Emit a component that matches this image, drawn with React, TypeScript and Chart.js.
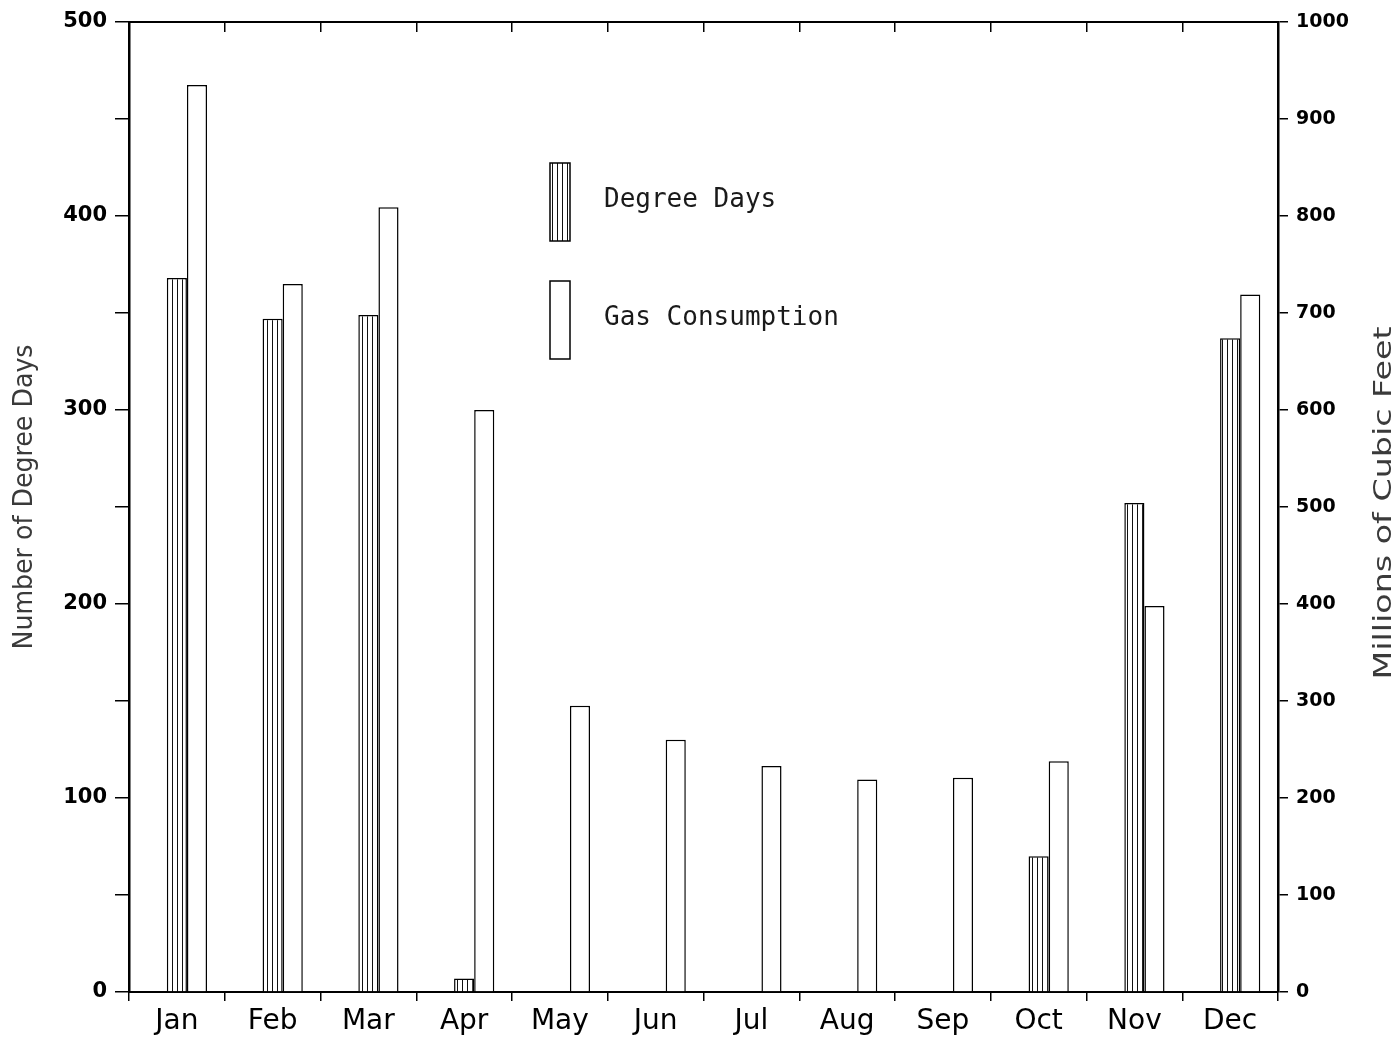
import React, { useEffect, useRef } from 'react';
import { Chart, registerables } from 'chart.js';

Chart.register(...registerables);

const months = ['Jan', 'Feb', 'Mar', 'Apr', 'May', 'Jun', 'Jul', 'Aug', 'Sep', 'Oct', 'Nov', 'Dec'];
const degreeDays = [368, 347, 349, 7, 0, 0, 0, 0, 0, 70, 252, 337];
const gasConsumption = [935, 730, 809, 600, 295, 260, 233, 219, 221, 238, 398, 719];
const seriesLabels = ['Degree Days', 'Gas Consumption'];
const leftTickValues = [0, 50, 100, 150, 200, 250, 300, 350, 400, 450, 500];
const leftTickLabels = ['0', '', '100', '', '200', '', '300', '', '400', '', '500'];
const rightTickValues = [0, 100, 200, 300, 400, 500, 600, 700, 800, 900, 1000];
const rightTickLabels = ['0', '100', '200', '300', '400', '500', '600', '700', '800', '900', '1000'];
const leftTitle = 'Number of Degree Days';
const rightTitle = 'Millions of Cubic Feet';

function makeHatch(): CanvasPattern | string {
  const c = document.createElement('canvas');
  c.width = 5;
  c.height = 8;
  const g = c.getContext('2d');
  if (!g) return '#fff';
  g.fillStyle = '#fff';
  g.fillRect(0, 0, 5, 8);
  g.fillStyle = '#111';
  g.fillRect(2, 0, 1, 8);
  const p = g.createPattern(c, 'repeat');
  return p || '#fff';
}

function drawFittedVertical(ctx: CanvasRenderingContext2D, text: string, cx: number, cy: number, length: number, size: number) {
  ctx.save();
  ctx.font = `${size}px "DejaVu Sans"`;
  const w = ctx.measureText(text).width;
  const sx = length / w;
  ctx.translate(cx, cy);
  ctx.rotate(-Math.PI / 2);
  ctx.scale(sx, 1);
  ctx.fillStyle = '#3a3a3a';
  ctx.textAlign = 'center';
  ctx.textBaseline = 'middle';
  ctx.fillText(text, 0, 0);
  ctx.restore();
}

export default function App() {
  const ref = useRef<HTMLCanvasElement | null>(null);

  useEffect(() => {
    document.body.style.margin = '0';
    document.body.style.overflow = 'hidden';
    const canvas = ref.current;
    if (!canvas) return;
    const hatch = makeHatch();

    const extras = {
      id: 'extras',
      afterDraw(chart: any) {
        const { ctx, chartArea } = chart;
        const midY = (chartArea.top + chartArea.bottom) / 2;
        drawFittedVertical(ctx, leftTitle, 25, midY - 10, 305, 26);
        drawFittedVertical(ctx, rightTitle, 1385, midY - 4, 353, 24);
        const fills = [hatch, '#fff'];
        const boxX = 550;
        const boxW = 20;
        const boxH = 78;
        const tops = [163, 281];
        ctx.save();
        ctx.font = '26px "DejaVu Sans Mono"';
        ctx.textBaseline = 'middle';
        ctx.textAlign = 'left';
        seriesLabels.forEach((lab, i) => {
          ctx.fillStyle = fills[i] as any;
          ctx.fillRect(boxX, tops[i], boxW, boxH);
          ctx.strokeStyle = '#000';
          ctx.lineWidth = 1.5;
          ctx.strokeRect(boxX, tops[i], boxW, boxH);
          ctx.fillStyle = '#1a1a1a';
          ctx.fillText(lab, 604, tops[i] + 37);
        });
        ctx.restore();
      },
    };

    const chart = new Chart(canvas, {
      type: 'bar',
      data: {
        labels: months,
        datasets: [
          {
            label: '',
            data: months.map(() => null),
            yAxisID: 'y',
          },
          {
            label: seriesLabels[0],
            data: degreeDays,
            yAxisID: 'y',
            backgroundColor: hatch as any,
            borderColor: '#000',
            borderWidth: 1.5,
          },
          {
            label: seriesLabels[1],
            data: gasConsumption,
            yAxisID: 'y1',
            backgroundColor: '#fff',
            borderColor: '#000',
            borderWidth: 1.5,
          },
        ],
      },
      options: {
        responsive: false,
        animation: false,
        layout: { padding: 0 },
        datasets: {
          bar: { categoryPercentage: 0.63, barPercentage: 1.0 },
        },
        plugins: {
          legend: { display: false },
          tooltip: { enabled: false },
        },
        scales: {
          x: {
            position: 'bottom',
            offset: true,
            grid: { offset: true, drawOnChartArea: false, tickLength: 9, color: '#000', lineWidth: 1.5 },
            border: { color: '#000', width: 2 },
            ticks: {
              font: { family: 'DejaVu Sans', size: 28 },
              color: '#000',
              padding: 4,
              maxRotation: 0,
              autoSkip: false,
            },
            afterFit(s: any) { s.height = 46; },
          },
          x2: {
            type: 'category',
            labels: months,
            position: 'top',
            offset: true,
            grid: { offset: true, drawOnChartArea: false, tickLength: -10, color: '#000', lineWidth: 1.5 },
            border: { color: '#000', width: 2 },
            ticks: { display: false },
            afterFit(s: any) { s.height = 22; },
          },
          y: {
            position: 'left',
            min: 0,
            max: 500,
            afterBuildTicks(s: any) { s.ticks = leftTickValues.map((v) => ({ value: v })); },
            ticks: {
              callback: (v: any) => leftTickLabels[leftTickValues.indexOf(Number(v))] ?? '',
              font: { family: 'DejaVu Sans', size: 21, weight: 'bold' },
              color: '#000',
              padding: 8,
            },
            grid: { drawOnChartArea: false, tickLength: 14, color: '#000', lineWidth: 1.5 },
            border: { color: '#000', width: 2.5 },
            afterFit(s: any) { s.width = 129; },
          },
          y1: {
            position: 'right',
            min: 0,
            max: 1000,
            afterBuildTicks(s: any) { s.ticks = rightTickValues.map((v) => ({ value: v })); },
            ticks: {
              callback: (v: any) => rightTickLabels[rightTickValues.indexOf(Number(v))] ?? '',
              font: { family: 'DejaVu Sans', size: 19, weight: 'bold' },
              color: '#000',
              padding: 8,
            },
            grid: { drawOnChartArea: false, tickLength: 10, color: '#000', lineWidth: 1.5 },
            border: { color: '#000', width: 2.5 },
            afterFit(s: any) { s.width = 121; },
          },
        },
      } as any,
      plugins: [extras],
    });

    return () => chart.destroy();
  }, []);

  return (
    <div style={{ position: 'absolute', left: 0, top: 0, width: 1399, height: 1038, background: '#fff' }}>
      <canvas ref={ref} width={1399} height={1038} style={{ display: 'block' }} />
    </div>
  );
}
